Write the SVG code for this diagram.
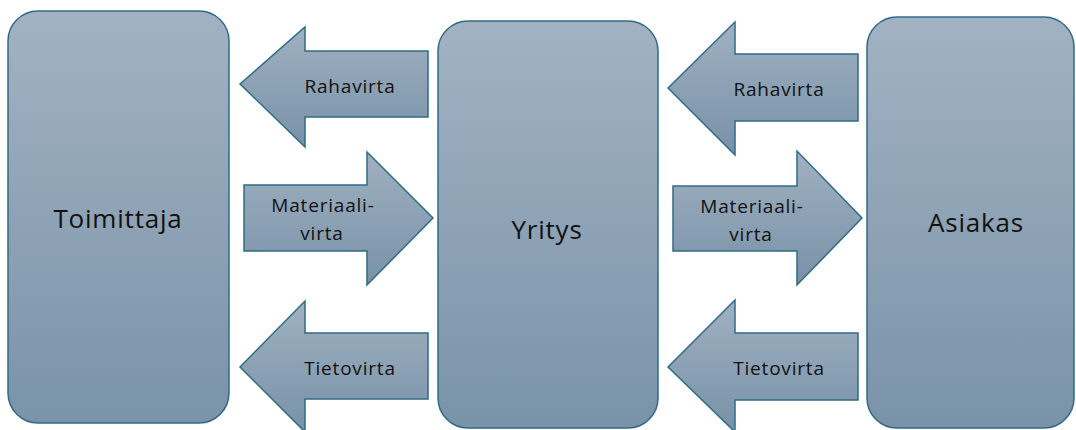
<svg xmlns="http://www.w3.org/2000/svg" width="1076" height="430" viewBox="0 0 1076 430">
<defs>
<linearGradient id="gBox" x1="0" y1="0" x2="0" y2="1">
<stop offset="0" stop-color="#a2b2c2"/>
<stop offset="1" stop-color="#7a93a8"/>
</linearGradient>
<linearGradient id="gArr" x1="0" y1="0" x2="0" y2="1">
<stop offset="0" stop-color="#a0b1c1"/>
<stop offset="1" stop-color="#7891a7"/>
</linearGradient>
</defs>
<style>
.box{fill:url(#gBox);stroke:#2f6b86;stroke-width:1.5}
.arr{fill:url(#gArr);stroke:#2f6b86;stroke-width:1.5;stroke-linejoin:miter}
.big{font-family:"Open Sans","Liberation Sans",sans-serif;font-size:26px;letter-spacing:0.8px;fill:#111;text-anchor:middle}
.lbl{font-family:"Open Sans","Liberation Sans",sans-serif;font-size:19px;letter-spacing:0.8px;fill:#111;text-anchor:middle}
</style>
<rect width="1076" height="430" fill="#ffffff"/>
<g id="toimittaja">
<rect class="box" x="8" y="11" width="221" height="412" rx="30"/>
<text class="big" x="118" y="228">Toimittaja</text>
</g>
<g id="yritys">
<rect class="box" x="438" y="21" width="220" height="407" rx="30"/>
<text class="big" x="547" y="239">Yritys</text>
</g>
<g id="asiakas">
<rect class="box" x="867" y="17" width="207" height="411" rx="30"/>
<text class="big" x="976" y="232">Asiakas</text>
</g>
<g id="connectors">
<g id="raha1">
<path class="arr" d="M240,84 L305,27 L305,51 L428,51 L428,117 L305,117 L305,147 Z"/>
<text class="lbl" x="350" y="93">Rahavirta</text>
</g>
<g id="mat1">
<path class="arr" d="M244,185 L367,185 L367,152 L433,218 L367,285 L367,251 L244,251 Z"/>
<text class="lbl" x="323" y="212">Materiaali-</text>
<text class="lbl" x="322" y="240">virta</text>
</g>
<g id="tieto1">
<path class="arr" d="M240,367 L305,301 L305,333 L428,333 L428,399 L305,399 L305,432 Z"/>
<text class="lbl" x="350" y="375">Tietovirta</text>
</g>
<g id="raha2">
<path class="arr" d="M668,88 L735,22 L735,54 L858,54 L858,121 L735,121 L735,155 Z"/>
<text class="lbl" x="779" y="96">Rahavirta</text>
</g>
<g id="mat2">
<path class="arr" d="M673,186 L797,186 L797,151 L862,218 L797,285 L797,251 L673,251 Z"/>
<text class="lbl" x="752" y="213">Materiaali-</text>
<text class="lbl" x="751" y="241">virta</text>
</g>
<g id="tieto2">
<path class="arr" d="M668,367 L735,300 L735,333 L858,333 L858,400 L735,400 L735,432 Z"/>
<text class="lbl" x="779" y="375">Tietovirta</text>
</g>
</g>
</svg>
